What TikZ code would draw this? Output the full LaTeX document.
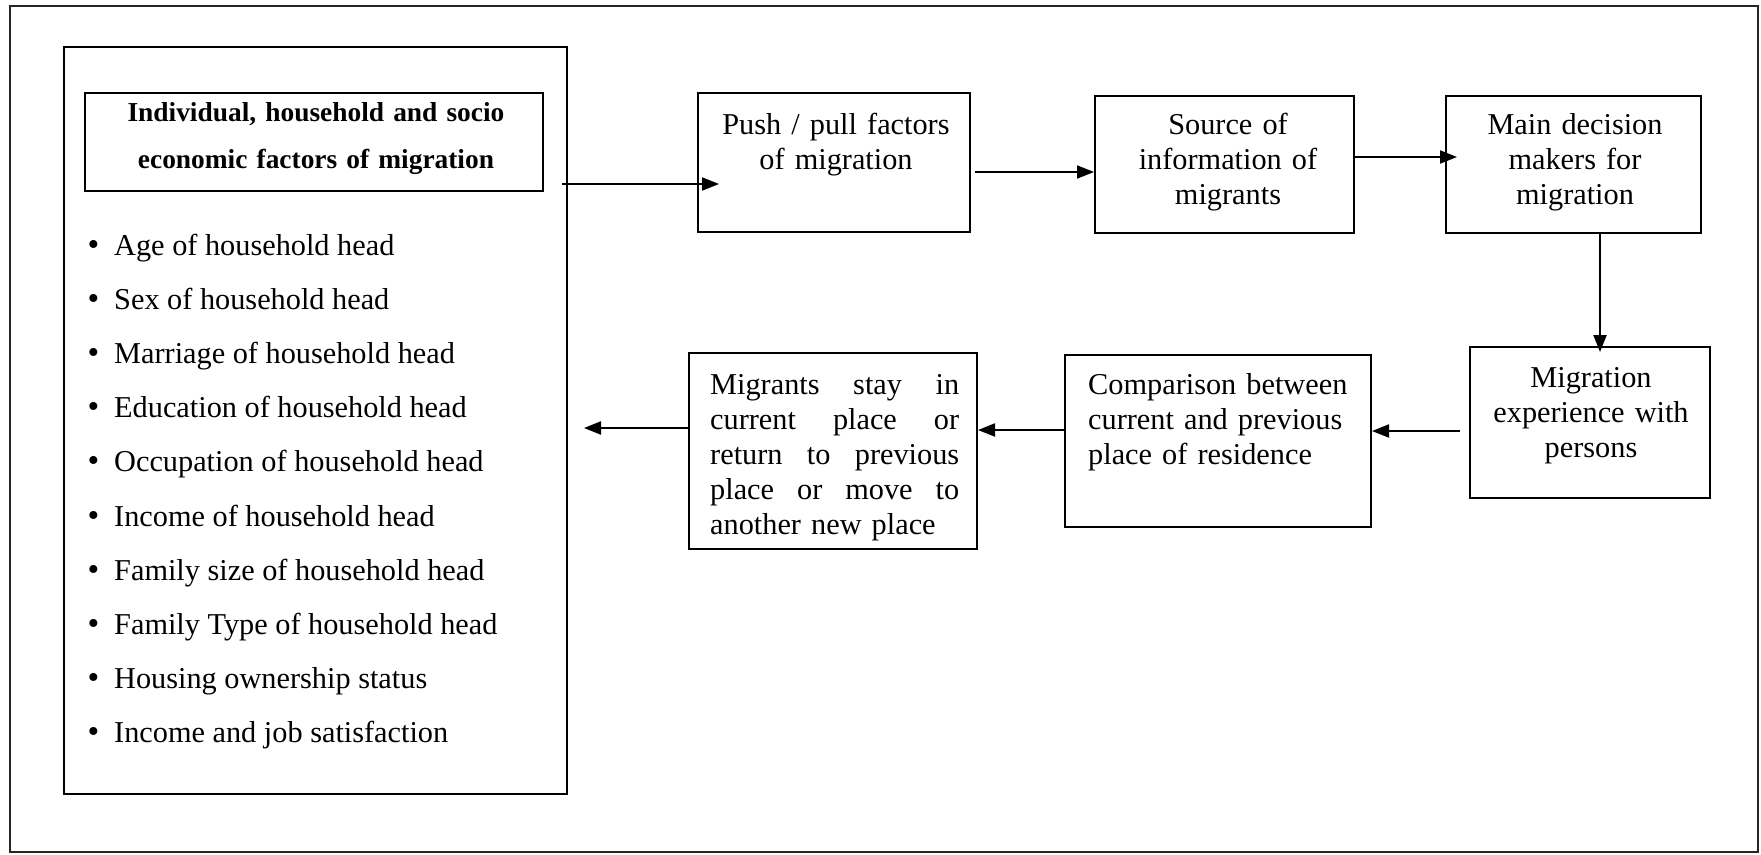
\documentclass[tikz,border=0pt]{standalone}
\usepackage{fontspec}
\setmainfont{Liberation Serif}
\usetikzlibrary{arrows.meta,calc}
\newcommand{\jline}[1]{\leavevmode\hbox to 249pt{#1}}
\begin{document}
\begin{tikzpicture}[x=1pt,y=-1pt,
  box/.style={draw, line width=2pt, rectangle, inner sep=0pt},
  frame/.style={draw=black!85, line width=1.6pt, rectangle, inner sep=0pt},
  txt/.style={font=\fontsize{30.3}{35}\selectfont, inner sep=0pt},
  hdrtxt/.style={font=\bfseries\fontsize{27.4}{47}\selectfont, inner sep=0pt},
  arr/.style={line width=2pt, -{Triangle[length=17pt,width=13pt]}}
]
\useasboundingbox (0,0) rectangle (1761,854);
% outer frame
\node[frame, minimum width=1748pt, minimum height=846pt] (outer) at (884,429) {};
% left box
\node[box, minimum width=503pt, minimum height=747pt] (leftbox) at (315.5,420.5) {};
\node[box, minimum width=458pt, minimum height=98pt] (hdr) at (314,142) {};
\node[hdrtxt, anchor=base, text width=440pt, align=center] (hdrT) at (316,121.5)
  {Individual, household and socio\\economic factors of migration};
\foreach \t [count=\i from 0] in {Age of household head, Sex of household head,
  Marriage of household head, Education of household head,
  Occupation of household head, Income of household head,
  Family size of household head, Family Type of household head,
  Housing ownership status, Income and job satisfaction}
  \node[txt, anchor=base west] (b\i) at (114,{255+54.2*\i})
    {\llap{\scalebox{1.1}{\textbullet}\hspace{15pt}}\t};
% top row boxes
\node[box, minimum width=272pt, minimum height=139pt] (push) at (834,162.5) {};
\node[txt, anchor=base, text width=270pt, align=center] (pushT) at (836,134)
  {Push / pull factors\\of migration};
\node[box, minimum width=259pt, minimum height=137pt] (source) at (1224.5,164.5) {};
\node[txt, anchor=base, text width=250pt, align=center] (sourceT) at (1228,134)
  {Source of\\information of\\migrants};
\node[box, minimum width=255pt, minimum height=137pt] (main) at (1573.5,164.5) {};
\node[txt, anchor=base, text width=250pt, align=center] (mainT) at (1575,134)
  {Main decision\\makers for\\migration};
% bottom row boxes
\node[box, minimum width=240pt, minimum height=151pt] (migexp) at (1590,422.5) {};
\node[txt, anchor=base, text width=240pt, align=center] (migexpT) at (1591,387)
  {Migration\\experience with\\persons};
\node[box, minimum width=306pt, minimum height=172pt] (comp) at (1218,441) {};
\node[txt, anchor=base west, text width=280pt, align=left] (compT) at (1088,394)
  {Comparison between\\current and previous\\place of residence};
\node[box, minimum width=288pt, minimum height=196pt] (migr) at (833,451) {};
\node[txt, anchor=base west, text width=249pt, align=left] (migrT) at (710,394)
  {\jline{Migrants\hfill stay\hfill in}\\
   \jline{current\hfill place\hfill or}\\
   \jline{return\hfill to\hfill previous}\\
   \jline{place\hfill or\hfill move\hfill to}\\
   another new place};
% connectors
\coordinate (a1) at ([yshift=-21.5pt]push.west);
\draw[arr] ([xshift=-6pt]leftbox.east |- a1) -- ([xshift=22pt]a1);
\coordinate (a2) at ([xshift=4pt,yshift=-9.5pt]push.east);
\draw[arr] (a2) -- (source.west |- a2);
\coordinate (a3) at ([yshift=7.5pt]source.east);
\draw[arr] (a3) -- ([xshift=12pt]main.west |- a3);
\coordinate (a4) at ([xshift=26.5pt]main.south);
\draw[arr] (a4) -- ([yshift=-6pt]a4 |- migexp.north);
\coordinate (a5) at ([xshift=-9pt,yshift=-8.5pt]migexp.west);
\draw[arr] (a5) -- (comp.east |- a5);
\coordinate (a6) at ([yshift=11pt]comp.west);
\draw[arr] (a6) -- (migr.east |- a6);
\coordinate (a7) at ([yshift=23pt]migr.west);
\coordinate (e7) at ([xshift=16pt]leftbox.east |- a7);
\draw[arr] (a7) -- (e7);
\end{tikzpicture}
\end{document}
